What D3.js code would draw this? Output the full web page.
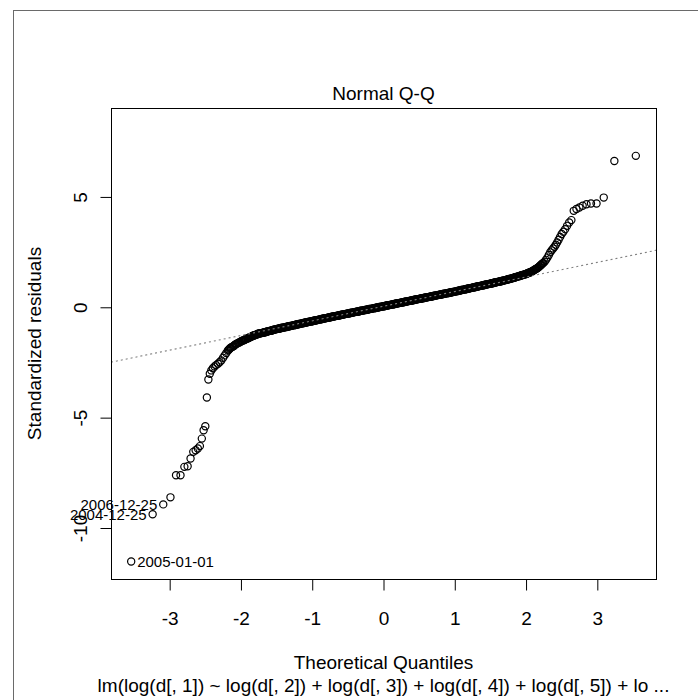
<!DOCTYPE html>
<html><head><meta charset="utf-8">
<script src="https://cdn.jsdelivr.net/npm/d3@7"></script>
<style>
body{margin:0;background:#fff}
svg{display:block}
text{font-family:"Liberation Sans",Arial,Helvetica,sans-serif;fill:#000}
</style>
</head><body>
<svg id="chart" width="698" height="700"></svg>
<script>
// ---------- data ----------
const titleText = "Normal Q-Q";
const xLabel = "Theoretical Quantiles";
const yLabel = "Standardized residuals";
const subCaption = "lm(log(d[, 1]) ~ log(d[, 2]) + log(d[, 3]) + log(d[, 4]) + log(d[, 5]) + lo ...";
const xTicks = [-3, -2, -1, 0, 1, 2, 3];
const yTicks = [-10, -5, 0, 5];

// theoretical quantiles (sorted) and matching standardized residuals
const theoQ = [
 -3.540,-3.239,-3.090,-2.989,-2.911,-2.848,-2.794,-2.748,-2.707,-2.669,-2.636,-2.605,-2.576,-2.549,-2.524,-2.500,-2.478,-2.457,
 -2.437,-2.416,-2.394,-2.370,-2.350,-2.323,-2.300,-2.276,-2.250,-2.229,-2.205,-2.183,-2.160,-2.140,-2.113,-2.090,-2.070,-2.040,-2.018,-2.000,
 -1.980,-1.960,-1.940,-1.924,-1.900,-1.880,-1.860,-1.840,-1.820,-1.800,-1.780,-1.760,-1.740,-1.720,
 -1.70,-1.68,-1.66,-1.64,-1.62,-1.60,-1.58,-1.56,-1.54,-1.52,-1.50,-1.48,-1.46,-1.44,-1.42,-1.40,-1.38,-1.36,-1.34,-1.32,
 -1.30,-1.28,-1.26,-1.24,-1.22,-1.20,-1.18,-1.16,-1.14,-1.12,-1.10,-1.08,-1.06,-1.04,-1.02,-1.00,-0.98,-0.96,-0.94,-0.92,
 -0.90,-0.88,-0.86,-0.84,-0.82,-0.80,-0.78,-0.76,-0.74,-0.72,-0.70,-0.68,-0.66,-0.64,-0.62,-0.60,-0.58,-0.56,-0.54,-0.52,
 -0.50,-0.48,-0.46,-0.44,-0.42,-0.40,-0.38,-0.36,-0.34,-0.32,-0.30,-0.28,-0.26,-0.24,-0.22,-0.20,-0.18,-0.16,-0.14,-0.12,
 -0.10,-0.08,-0.06,-0.04,-0.02,0.00,0.02,0.04,0.06,0.08,0.10,0.12,0.14,0.16,0.18,0.20,0.22,0.24,0.26,0.28,
 0.30,0.32,0.34,0.36,0.38,0.40,0.42,0.44,0.46,0.48,0.50,0.52,0.54,0.56,0.58,0.60,0.62,0.64,0.66,0.68,
 0.70,0.72,0.74,0.76,0.78,0.80,0.82,0.84,0.86,0.88,0.90,0.92,0.94,0.96,0.98,1.00,1.02,1.04,1.06,1.08,
 1.10,1.12,1.14,1.16,1.18,1.20,1.22,1.24,1.26,1.28,1.30,1.32,1.34,1.36,1.38,1.40,1.42,1.44,1.46,1.48,
 1.50,1.52,1.54,1.56,1.58,1.60,1.62,1.64,1.66,1.68,1.70,1.72,1.74,1.76,1.78,1.80,1.82,1.84,1.86,1.88,1.90,
 1.92,1.94,1.96,1.98,2.00,2.02,2.04,2.06,2.08,2.10,2.12,2.14,2.16,2.18,2.20,2.22,2.24,2.26,2.28,2.30,2.32,2.34,2.36,2.38,2.40,
 2.418,2.437,2.457,2.478,2.500,2.524,2.549,2.576,2.605,2.636,2.669,2.707,2.748,2.794,2.848,2.911,2.989,3.090,3.239,3.540
];
const stdRes = [
 -11.52,-9.38,-8.93,-8.61,-7.61,-7.61,-7.23,-7.20,-6.85,-6.55,-6.48,-6.40,-6.29,-5.95,-5.57,-5.39,-4.09,-3.27,
 -3.01,-2.86,-2.76,-2.68,-2.62,-2.56,-2.49,-2.41,-2.29,-2.18,-2.07,-1.96,-1.88,-1.82,-1.78,-1.72,-1.67,-1.62,-1.58,-1.55,
 -1.52,-1.49,-1.46,-1.43,-1.40,-1.37,-1.34,-1.30,-1.28,-1.26,-1.23,-1.20,-1.19,-1.17,
 -1.16,-1.14,-1.13,-1.11,-1.09,-1.07,-1.06,-1.04,-1.02,-1.00,-0.99,-0.97,-0.96,-0.94,-0.93,-0.92,-0.90,-0.89,-0.87,-0.86,
 -0.84,-0.83,-0.81,-0.80,-0.78,-0.77,-0.76,-0.74,-0.73,-0.71,-0.70,-0.68,-0.67,-0.65,-0.64,-0.63,-0.61,-0.60,-0.59,-0.57,
 -0.56,-0.54,-0.53,-0.51,-0.50,-0.49,-0.47,-0.46,-0.44,-0.43,-0.42,-0.40,-0.39,-0.38,-0.36,-0.35,-0.34,-0.32,-0.31,-0.30,
 -0.28,-0.27,-0.26,-0.24,-0.23,-0.22,-0.20,-0.19,-0.18,-0.16,-0.15,-0.14,-0.12,-0.11,-0.10,-0.08,-0.07,-0.06,-0.05,-0.03,
 -0.02,-0.01,0.01,0.02,0.03,0.05,0.06,0.07,0.09,0.10,0.11,0.13,0.14,0.15,0.17,0.18,0.19,0.21,0.22,0.23,
 0.25,0.26,0.27,0.29,0.30,0.31,0.33,0.34,0.35,0.37,0.38,0.39,0.41,0.42,0.43,0.44,0.46,0.47,0.48,0.50,
 0.51,0.52,0.54,0.55,0.56,0.58,0.59,0.60,0.62,0.63,0.64,0.66,0.67,0.68,0.70,0.71,0.72,0.74,0.75,0.77,
 0.78,0.80,0.81,0.83,0.84,0.85,0.87,0.88,0.90,0.91,0.93,0.94,0.96,0.97,0.98,1.00,1.01,1.03,1.04,1.06,
 1.07,1.09,1.10,1.12,1.13,1.15,1.16,1.18,1.19,1.21,1.22,1.24,1.26,1.28,1.29,1.31,1.33,1.35,1.37,1.39,1.41,
 1.43,1.45,1.47,1.49,1.51,1.54,1.57,1.59,1.62,1.66,1.70,1.74,1.78,1.83,1.89,1.95,2.01,2.06,2.15,2.25,2.37,2.49,2.58,2.66,2.74,
 2.83,2.94,3.06,3.19,3.32,3.42,3.54,3.69,3.84,3.95,4.37,4.45,4.52,4.60,4.67,4.70,4.70,4.97,6.63,6.86
];

// further readings inside the dense band (between the positions above)
const bandQ = [
 -2.170,-2.150,-2.125,-2.100,-2.080,-2.060,-2.030,-1.990,-1.970,-1.950,-1.930,-1.910,-1.890,-1.870,-1.850,-1.830,-1.810,-1.790,-1.770,-1.750,-1.730,-1.710,
 -1.69,-1.67,-1.65,-1.63,-1.61,-1.59,-1.57,-1.55,-1.53,-1.51,-1.49,-1.47,-1.45,-1.43,-1.41,-1.39,-1.37,-1.35,-1.33,-1.31,
 -1.29,-1.27,-1.25,-1.23,-1.21,-1.19,-1.17,-1.15,-1.13,-1.11,-1.09,-1.07,-1.05,-1.03,-1.01,-0.99,-0.97,-0.95,-0.93,-0.91,
 -0.89,-0.87,-0.85,-0.83,-0.81,-0.79,-0.77,-0.75,-0.73,-0.71,-0.69,-0.67,-0.65,-0.63,-0.61,-0.59,-0.57,-0.55,-0.53,-0.51,
 -0.49,-0.47,-0.45,-0.43,-0.41,-0.39,-0.37,-0.35,-0.33,-0.31,-0.29,-0.27,-0.25,-0.23,-0.21,-0.19,-0.17,-0.15,-0.13,-0.11,
 -0.09,-0.07,-0.05,-0.03,-0.01,0.01,0.03,0.05,0.07,0.09,0.11,0.13,0.15,0.17,0.19,0.21,0.23,0.25,0.27,0.29,
 0.31,0.33,0.35,0.37,0.39,0.41,0.43,0.45,0.47,0.49,0.51,0.53,0.55,0.57,0.59,0.61,0.63,0.65,0.67,0.69,
 0.71,0.73,0.75,0.77,0.79,0.81,0.83,0.85,0.87,0.89,0.91,0.93,0.95,0.97,0.99,1.01,1.03,1.05,1.07,1.09,
 1.11,1.13,1.15,1.17,1.19,1.21,1.23,1.25,1.27,1.29,1.31,1.33,1.35,1.37,1.39,1.41,1.43,1.45,1.47,1.49,
 1.51,1.53,1.55,1.57,1.59,1.61,1.63,1.65,1.67,1.69,1.71,1.73,1.75,1.77,1.79,1.81,1.83,1.85,1.87,1.89,
 1.91,1.93,1.95,1.97,1.99,2.01,2.03,2.05,2.07,2.09,2.11,2.13,2.15,2.17,2.19,2.21,2.23
];
const bandRes = [
 -1.92,-1.85,-1.80,-1.75,-1.69,-1.65,-1.60,-1.53,-1.50,-1.47,-1.44,-1.41,-1.38,-1.35,-1.32,-1.29,-1.27,-1.24,-1.22,-1.19,-1.18,-1.17,
 -1.15,-1.13,-1.12,-1.10,-1.08,-1.07,-1.05,-1.03,-1.01,-1.00,-0.98,-0.97,-0.95,-0.94,-0.92,-0.91,-0.89,-0.88,-0.86,-0.85,
 -0.84,-0.82,-0.81,-0.79,-0.78,-0.76,-0.75,-0.73,-0.72,-0.70,-0.69,-0.68,-0.66,-0.65,-0.63,-0.62,-0.61,-0.59,-0.58,-0.56,
 -0.55,-0.53,-0.52,-0.51,-0.49,-0.48,-0.46,-0.45,-0.44,-0.42,-0.41,-0.40,-0.38,-0.37,-0.36,-0.34,-0.33,-0.32,-0.30,-0.29,
 -0.28,-0.26,-0.25,-0.24,-0.22,-0.21,-0.20,-0.19,-0.17,-0.16,-0.15,-0.13,-0.12,-0.11,-0.09,-0.08,-0.07,-0.05,-0.04,-0.03,
 -0.01,0.00,0.01,0.03,0.04,0.05,0.07,0.08,0.09,0.11,0.12,0.13,0.15,0.16,0.17,0.19,0.20,0.21,0.23,0.24,
 0.25,0.27,0.28,0.29,0.31,0.32,0.33,0.35,0.36,0.37,0.39,0.40,0.41,0.42,0.44,0.45,0.46,0.48,0.49,0.50,
 0.52,0.53,0.54,0.56,0.57,0.58,0.60,0.61,0.62,0.64,0.65,0.66,0.68,0.69,0.70,0.72,0.73,0.75,0.76,0.78,
 0.79,0.80,0.82,0.83,0.85,0.86,0.88,0.89,0.91,0.92,0.93,0.95,0.96,0.98,0.99,1.01,1.02,1.04,1.05,1.06,
 1.08,1.09,1.11,1.12,1.14,1.15,1.17,1.18,1.20,1.22,1.23,1.25,1.27,1.28,1.30,1.32,1.34,1.36,1.38,1.40,
 1.42,1.44,1.46,1.48,1.50,1.52,1.55,1.58,1.60,1.64,1.68,1.72,1.76,1.80,1.86,1.92,1.98
];

// identified observations (index into the sorted arrays) and their names
const idIndex = [0, 1, 2];
const idNames = ["2005-01-01", "2004-12-25", "2006-12-25"];
const idSide = ["right", "left", "left"];

// reference line (qqline): intercept, slope
const qqLine = [0.047, 0.663];

// ---------- drawing ----------
const svg = d3.select("#chart");
const L = 111, R = 656, T = 108, B = 579;
const baseFont = 19, lineH = 22.8;

svg.append("rect").attr("x", 0).attr("y", 0).attr("width", 698).attr("height", 700).attr("fill", "#fff");
svg.append("rect").attr("x", 13.5).attr("y", 10.5).attr("width", 720).attr("height", 720)
  .attr("fill", "none").attr("stroke", "#6a6a6a").attr("stroke-width", 1);

const xr = d3.extent(theoQ);
const xpad = (xr[1] - xr[0]) * 0.04;
const x = d3.scaleLinear().domain([xr[0] - xpad, xr[1] + xpad]).range([L, R]);
const yr = d3.extent(stdRes);
yr[1] += (yr[1] - yr[0]) * 0.075;
const ypad = (yr[1] - yr[0]) * 0.04;
const y = d3.scaleLinear().domain([yr[0] - ypad, yr[1] + ypad]).range([B, T]);

const pts = theoQ.map((q, i) => ({q, r: stdRes[i]}))
  .concat(bandQ.map((q, i) => ({q, r: bandRes[i]})));

svg.append("defs").append("clipPath").attr("id", "plotclip")
  .append("rect").attr("x", L).attr("y", T).attr("width", R - L).attr("height", B - T);

// points
svg.append("g").selectAll("circle").data(pts).join("circle")
  .attr("cx", d => x(d.q)).attr("cy", d => y(d.r)).attr("r", 3.6)
  .attr("fill", "none").attr("stroke", "#000").attr("stroke-width", 1.2);

// qq line
const xd = x.domain();
svg.append("line").attr("clip-path", "url(#plotclip)")
  .attr("x1", x(xd[0])).attr("y1", y(qqLine[0] + qqLine[1] * xd[0]))
  .attr("x2", x(xd[1])).attr("y2", y(qqLine[0] + qqLine[1] * xd[1]))
  .attr("stroke", "#7f7f7f").attr("stroke-width", 1.1).attr("stroke-dasharray", "2,3");

// box
svg.append("rect").attr("x", L + 0.5).attr("y", T + 0.5).attr("width", R - L).attr("height", B - T)
  .attr("fill", "none").attr("stroke", "#000").attr("stroke-width", 1);

// x axis
const gx = svg.append("g").attr("transform", `translate(0,${B + 0.5})`)
  .call(d3.axisBottom(x).tickValues(xTicks).tickSize(11).tickFormat(d => String(d)));
gx.select(".domain").remove();
gx.selectAll(".tick line").attr("stroke", "#000");
gx.selectAll(".tick text").attr("y", 2 * lineH).attr("dy", null)
  .attr("font-size", baseFont).attr("fill", "#000")
  .style("font-family", "'Liberation Sans',Arial,sans-serif");

// y axis
const gy = svg.append("g").attr("transform", `translate(${L + 0.5},0)`)
  .call(d3.axisLeft(y).tickValues(yTicks).tickSize(11).tickFormat(d => String(d)));
gy.select(".domain").remove();
gy.selectAll(".tick line").attr("stroke", "#000");
gy.selectAll(".tick text").attr("x", null).attr("dy", null)
  .attr("text-anchor", "middle").attr("transform", `translate(${-lineH - 1.5},0) rotate(-90)`)
  .attr("font-size", baseFont).attr("fill", "#000")
  .style("font-family", "'Liberation Sans',Arial,sans-serif");

// titles
const cx = (L + R) / 2;
svg.append("text").attr("x", cx).attr("y", T - 8).attr("text-anchor", "middle")
  .attr("font-size", baseFont).text(titleText);
svg.append("text").attr("x", cx).attr("y", B + 4 * lineH - 1).attr("text-anchor", "middle")
  .attr("font-size", baseFont).text(xLabel);
svg.append("text").attr("x", cx).attr("y", B + 5 * lineH - 1).attr("text-anchor", "middle")
  .attr("font-size", baseFont).text(subCaption);
svg.append("text").attr("transform", `translate(${L - 3 * lineH - 2},${(T + B) / 2}) rotate(-90)`)
  .attr("text-anchor", "middle").attr("font-size", baseFont).text(yLabel);

// id labels
svg.append("g").selectAll("text").data(idIndex).join("text")
  .attr("x", (d, i) => x(theoQ[d]) + (idSide[i] === "right" ? 6 : -6))
  .attr("y", d => y(stdRes[d]) + 5.3)
  .attr("text-anchor", (d, i) => idSide[i] === "right" ? "start" : "end")
  .attr("font-size", 15)
  .text((d, i) => idNames[i]);
</script>
</body></html>
